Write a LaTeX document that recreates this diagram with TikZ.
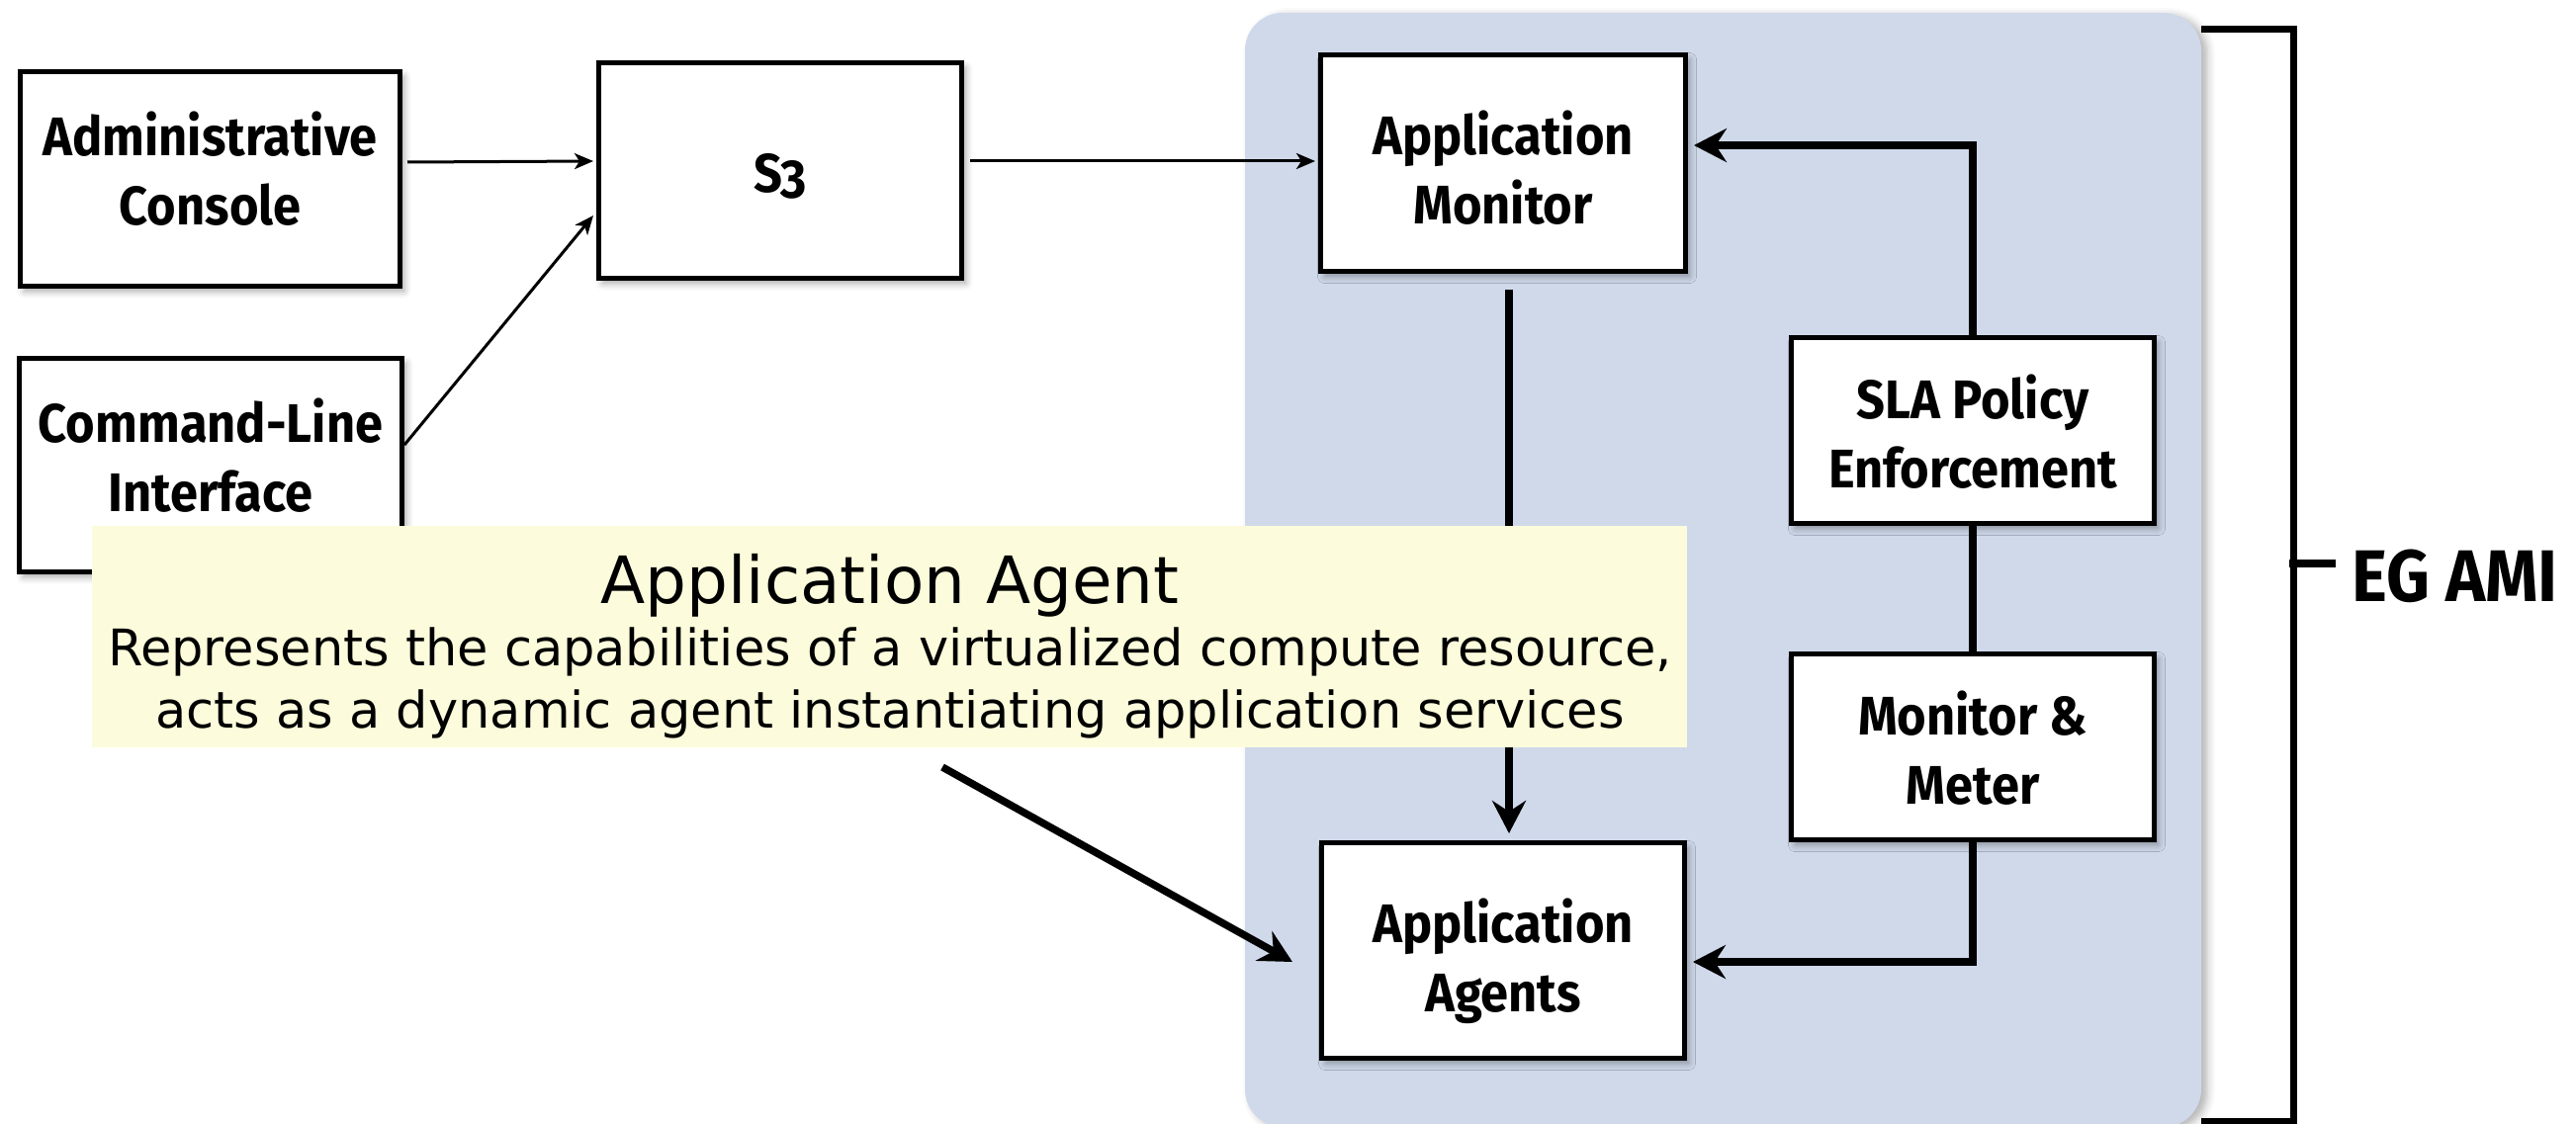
\documentclass[tikz,border=0pt]{standalone}
\usepackage{fontspec}
\usetikzlibrary{arrows.meta,shadows.blur}
\newfontfamily\boxfont[FakeStretch=0.92,Numbers=OldStyle]{Fira Sans}
\newfontfamily\notefont{DejaVu Sans}
\definecolor{amiblue}{HTML}{CFD9EA}
\definecolor{noteyellow}{HTML}{FCFCDC}
\tikzset{
  softshadow/.style={blur shadow={shadow xshift=4pt, shadow yshift=-5pt,
      shadow blur radius=7pt, shadow opacity=35}},
  box/.style={draw, line width=5pt, fill=white, inner sep=0pt, softshadow},
  bigbox/.style={box, minimum width=368pt, minimum height=218pt},
  smallbox/.style={box, minimum width=367pt, minimum height=188pt},
  label text/.style={align=center, inner sep=0pt,
      font=\boxfont\bfseries\fontsize{55}{70}\selectfont},
  thinarrow/.style={line width=3pt, -{Stealth[length=19pt,width=16pt,inset=5pt]}},
  thickline/.style={line width=7.5pt},
  thickarrow/.style={thickline, -{Stealth[length=33pt,width=34pt,inset=11pt]}},
  notetext/.style={anchor=base, inner sep=0pt},
}
\begin{document}
\begin{tikzpicture}[x=1pt,y=-1pt]
\useasboundingbox (0,0) rectangle (2605,1137);

% AMI region
\begin{scope}
  \clip (0,0) rectangle (2605,1137);
  \path[fill=amiblue, rounded corners=38pt,
        blur shadow={shadow xshift=6pt, shadow yshift=-3pt, shadow blur radius=8pt, shadow opacity=30}]
    (1259,13) rectangle (2226,1140);
\end{scope}

% components
\node[bigbox, minimum width=384pt, minimum height=217pt] (admin) at (212.5,181) {};
\node[bigbox, minimum width=387pt, minimum height=216pt] (cli) at (213,470.5) {};
\node[bigbox, minimum width=367pt] (s3) at (789,172.5) {};
\node[bigbox, minimum width=369pt, minimum height=219pt] (appmon) at (1520,165) {};
\node[bigbox, minimum width=367pt] (agents) at (1520,961.5) {};
\node[smallbox] (sla) at (1995,435.5) {};
\node[smallbox] (mm) at (1995,755.5) {};

\node[label text] (admintext) at ([yshift=10pt]admin.center) {Administrative\\Console};
\node[label text] (clitext) at ([yshift=10pt]cli.center) {Command-Line\\Interface};
\node[label text] (s3text) at ([yshift=-6pt]s3.center) {S3};
\node[label text] (appmontext) at ([yshift=-5pt]appmon.center) {Application\\Monitor};
\node[label text] (agentstext) at ([yshift=-11pt]agents.center) {Application\\Agents};
\node[label text] (slatext) at ([yshift=-1pt]sla.center) {SLA Policy\\Enforcement};
\node[label text] (mmtext) at ([yshift=-1pt]mm.center) {Monitor \&\\Meter};

% client side connectors
\draw[thinarrow] ([xshift=5pt]admin.east |- 0,164) -- ([xshift=-3pt]s3.west |- 0,163);
\draw[thinarrow] (cli.east |- 0,450) -- ([xshift=-3pt]s3.west |- 0,218);
\draw[thinarrow] ([xshift=6pt]s3.east |- 0,163) -- ([xshift=-3pt]appmon.west |- 0,163);

% connectors inside the AMI
\draw[thickarrow] (sla.north) -- (sla.north |- 0,147) -- ([xshift=6pt]appmon.east |- 0,147);
\draw[thickarrow] ([xshift=6pt,yshift=-16pt]appmon.south) -- ([xshift=6pt,yshift=7pt]agents.north);
\draw[thickline] (sla.south) -- (mm.north);
\draw[thickarrow] (mm.south) -- (mm.south |- 0,973) -- ([xshift=6pt]agents.east |- 0,973);

% bracket for the AMI
\coordinate (brtop) at (2226,29.5);
\coordinate (brbot) at (2226,1134);
\coordinate (brmid) at (2319,570);
\node[anchor=base west, inner sep=0pt, font=\boxfont\bfseries\fontsize{74}{88}\selectfont] (egami) at (2378,608) {EG AMI};
\draw[line width=7pt] (brtop) -- (brtop -| brmid) -- (brbot -| brmid) -- (brbot);
\draw[line width=8pt] ([xshift=-4pt]brmid) -- ([xshift=-16pt]egami.west |- brmid);

% callout
\node[fill=noteyellow, minimum width=1613pt, minimum height=224pt, inner sep=0pt] (note) at (899.5,644) {};
\node[notetext, font=\notefont\fontsize{66}{80}\selectfont] (notetitle) at (900,610) {Application Agent};
\node[notetext, font=\notefont\fontsize{51}{63}\selectfont] (noteline1) at (900,673) {Represents the capabilities of a virtualized compute resource,};
\node[notetext, font=\notefont\fontsize{51}{63}\selectfont] (noteline2) at (900,736) {acts as a dynamic agent instantiating application services};
\coordinate (ptrstart) at (953,776);
\coordinate (ptrend) at (1307,973);
\draw[thickarrow] (ptrstart) -- (ptrend);
\end{tikzpicture}
\end{document}
